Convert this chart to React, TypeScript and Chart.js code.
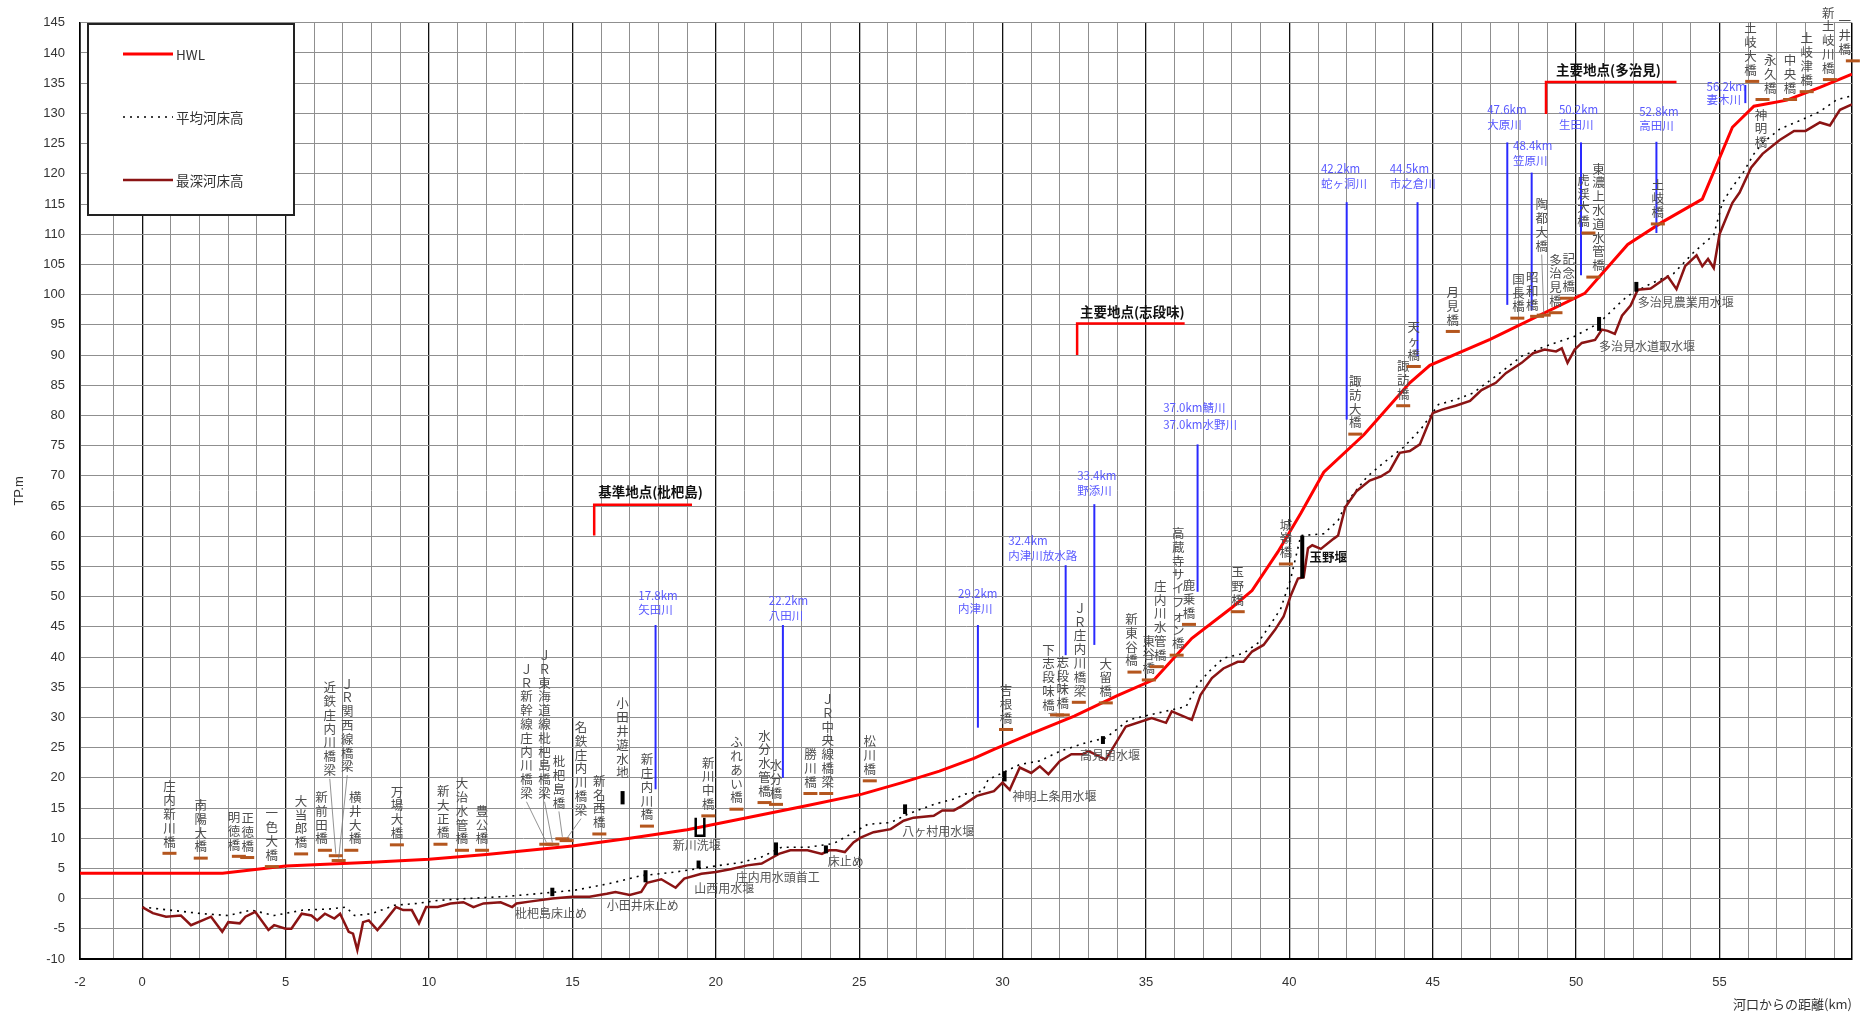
import React, { useEffect, useRef } from "react";
import { Chart, registerables } from "chart.js";
Chart.register(...registerables);

const W = 1868;
const H = 1015;
const JP = '"Noto Sans CJK JP", "Noto Sans", sans-serif';
const LAT = '"Liberation Sans", Arial, sans-serif';

// ---- axis ----
const xMin = -2.17;
const xMax = 59.62;
const yMin = -10;
const yMax = 145;

// ---- series ----
const hwlKm = [-2.17, 2.8, 5, 8, 10, 12, 15, 17, 19, 21, 23.2, 25.1, 26.5, 27.8, 29, 29.7, 31, 32.5, 34, 35.3, 36.6, 38, 38.7, 39.6, 40.4, 41.2, 42.6, 44.2, 44.9, 47, 50.3, 51.8, 53, 54.4, 55.45, 56.2, 57.35, 58.5, 59.62];
const hwlM = [4.2, 4.2, 5.4, 6.0, 6.5, 7.3, 8.7, 10.0, 11.4, 13.3, 15.4, 17.3, 19.2, 21.1, 23.2, 24.7, 27.3, 30.2, 33.6, 36.3, 43.1, 48.2, 51.0, 57.4, 63.8, 70.6, 76.8, 85.4, 88.3, 92.6, 100.2, 108.3, 112.0, 115.8, 127.7, 131.2, 132.2, 134.3, 136.5];

const meanKm = [0.0, 0.95, 2.1, 3.0, 3.8, 4.6, 5.6, 6.6, 7.1, 7.4, 8.0, 8.8, 9.6, 10.3, 11.3, 12.5, 13.05, 14.0, 15.1, 16.3, 17.4, 18.6, 19.7, 20.9, 21.6, 22.3, 23.2, 24.1, 24.6, 25.3, 26.1, 26.7, 27.6, 28.3, 28.7, 29.3, 29.5, 30.6, 31.3, 32.0, 32.9, 33.6, 34.4, 35.3, 36.4, 36.8, 37.2, 37.7, 38.4, 38.9, 39.4, 39.7, 40.05, 40.4, 41.2, 41.7, 42.0, 42.7, 43.3, 44.0, 44.6, 45.2, 45.8, 46.4, 47.2, 48.1, 48.9, 49.95, 50.8, 51.5, 51.8, 52.6, 53.4, 54.1, 54.8, 55.1, 55.4, 55.85, 56.2, 56.5, 57.1, 57.8, 58.5, 59.1, 59.62];
const meanM = [-1.4, -1.9, -2.5, -2.8, -1.9, -2.8, -1.9, -1.7, -1.4, -2.8, -2.5, -1.1, -0.8, -0.3, 0.0, 0.3, 0.5, 0.9, 1.4, 2.5, 3.8, 4.4, 5.2, 6.0, 6.9, 8.5, 8.5, 9.1, 10.4, 12.3, 12.6, 14.0, 15.6, 16.5, 17.3, 17.8, 19.7, 22.2, 22.8, 24.4, 25.8, 26.6, 29.6, 30.6, 31.8, 35.4, 37.6, 39.8, 40.6, 42.3, 45.8, 48.0, 53.0, 60.1, 60.4, 62.6, 65.6, 69.8, 72.2, 74.8, 77.8, 81.8, 82.6, 83.7, 86.5, 89.8, 91.4, 93.1, 95.3, 98.5, 99.8, 101.8, 103.5, 107.0, 109.9, 115.2, 117.5, 120.4, 123.3, 125.1, 127.4, 128.8, 130.3, 132.3, 132.9];

const deepKm = [0, 0.37, 0.83, 1.35, 1.7, 2.1, 2.4, 2.79, 3.0, 3.4, 3.6, 3.94, 4.4, 4.6, 5.0, 5.2, 5.56, 5.9, 6.1, 6.37, 6.7, 6.9, 7.2, 7.35, 7.5, 7.7, 7.9, 8.2, 8.4, 8.85, 9.1, 9.4, 9.65, 9.9, 10.3, 10.75, 11.2, 11.55, 11.9, 12.5, 12.9, 13.05, 13.5, 14.3, 15.0, 15.6, 16.2, 16.5, 17.0, 17.4, 17.6, 18.1, 18.6, 18.9, 19.5, 20.0, 20.55, 21.1, 21.6, 21.9, 22.2, 22.6, 23.2, 23.7, 23.95, 24.2, 24.5, 24.8, 25.05, 25.5, 26.1, 26.55, 26.9, 27.6, 27.9, 28.3, 28.6, 29.1, 29.7, 30.0, 30.25, 30.6, 31.0, 31.3, 31.6, 32.0, 32.4, 32.8, 33.0, 33.6, 34.3, 35.2, 35.7, 35.9, 36.6, 36.9, 37.3, 37.7, 38.2, 38.4, 38.7, 39.1, 39.5, 39.8, 40.05, 40.3, 40.5, 40.65, 40.8, 41.1, 41.55, 41.7, 41.95, 42.35, 42.8, 43.2, 43.5, 43.85, 44.2, 44.55, 45.0, 45.35, 45.8, 46.3, 46.7, 47.2, 47.55, 48.1, 48.5, 48.9, 49.3, 49.5, 49.7, 49.95, 50.2, 50.66, 50.9, 51.1, 51.35, 51.6, 51.9, 52.15, 52.6, 53.2, 53.5, 53.8, 54.2, 54.4, 54.6, 54.8, 55.0, 55.2, 55.45, 55.7, 56.1, 56.5, 57.1, 57.6, 58.0, 58.5, 58.85, 59.2, 59.62];
const deepM = [-1.4, -2.4, -3.0, -2.8, -4.4, -3.6, -3.0, -5.5, -3.9, -4.1, -3.0, -2.2, -5.2, -4.4, -5.0, -5.0, -2.5, -2.8, -3.6, -2.5, -3.3, -2.5, -5.5, -5.8, -8.5, -3.9, -3.6, -5.2, -4.1, -1.4, -1.9, -1.9, -4.1, -1.4, -1.4, -0.8, -0.6, -1.4, -0.8, -0.6, -1.4, -0.8, -0.5, 0.0, 0.3, 0.3, 0.8, 1.1, 0.6, 1.1, 2.6, 3.2, 1.8, 3.3, 4.1, 4.4, 4.9, 5.5, 5.8, 6.6, 7.4, 8.0, 8.0, 7.4, 8.0, 8.0, 7.7, 9.3, 10.1, 11.0, 11.5, 12.9, 13.4, 13.7, 14.6, 14.6, 15.4, 17.0, 17.8, 19.2, 18.0, 21.7, 20.8, 21.9, 20.6, 22.8, 23.9, 23.9, 24.4, 23.0, 28.5, 29.9, 29.1, 31.0, 29.6, 33.7, 36.5, 38.1, 39.2, 39.2, 40.9, 42.0, 44.5, 46.7, 50.2, 53.0, 53.2, 58.0, 58.5, 57.9, 59.6, 60.1, 64.8, 67.5, 69.2, 69.9, 70.8, 73.8, 74.1, 75.2, 80.4, 81.0, 81.6, 82.4, 84.2, 85.4, 87.0, 88.7, 90.3, 90.9, 90.6, 91.1, 88.7, 90.9, 92.0, 92.5, 94.2, 94.0, 93.5, 96.5, 98.2, 100.8, 101.0, 103.0, 100.9, 104.7, 106.5, 104.7, 105.9, 104.4, 110.0, 112.3, 115.2, 116.9, 121.0, 123.3, 125.6, 127.1, 127.1, 128.5, 128.0, 130.6, 131.5];

// ---- annotations (name, marker km, marker height, text km?, text bottom?) ----
const bridges: [string, number, number, number?, number?][] = [
  ["庄内新川橋", 0.95, 7.5],
  ["南陽大橋", 2.04, 6.7],
  ["明徳橋", 3.37, 7.0, 3.2],
  ["正徳橋", 3.66, 6.8, 3.68],
  ["一色大橋", 4.52, 5.3],
  ["大当郎橋", 5.54, 7.4],
  ["新前田橋", 6.37, 8.0, 6.25],
  ["近鉄庄内川橋梁", 6.75, 7.1, 6.54, 20.0],
  ["ＪＲ関西線橋梁", 6.85, 6.3, 7.15, 20.6],
  ["横井大橋", 7.29, 8.0, 7.43],
  ["万場大橋", 8.88, 8.9],
  ["新大正橋", 10.4, 9.0, 10.5],
  ["大治水管橋", 11.15, 8.0],
  ["豊公橋", 11.85, 8.0],
  ["ＪＲ新幹線庄内川橋梁", 14.09, 9.0, 13.4, 16.2],
  ["ＪＲ東海道線枇杷島橋梁", 14.3, 9.0, 14.03, 16.2],
  ["枇杷島橋", 14.65, 9.9, 14.53, 14.6],
  ["名鉄庄内川橋梁", 14.8, 9.6, 15.3, 13.4],
  ["新名西橋", 15.94, 10.7],
  ["新庄内川橋", 17.6, 12.0],
  ["新川中橋", 19.74, 13.7],
  ["ふれあい橋", 20.72, 14.8],
  ["水分水管橋", 21.7, 15.9],
  ["水分橋", 22.1, 15.6],
  ["勝川橋", 23.3, 17.4],
  ["ＪＲ中央線橋梁", 23.85, 17.4, 23.9],
  ["松川橋", 25.37, 19.5],
  ["吉根橋", 30.12, 28.0],
  ["下志段味橋", 31.9, 30.4, 31.6, 30.8],
  ["志段味橋", 32.1, 30.4],
  ["ＪＲ庄内川橋梁", 32.66, 32.5, 32.7],
  ["大留橋", 33.6, 32.4],
  ["新東谷橋", 34.6, 37.5, 34.5],
  ["東谷橋", 35.1, 36.2],
  ["庄内川水管橋", 35.38, 38.4, 35.5],
  ["高蔵寺サイフォン橋", 36.07, 40.3, 36.13],
  ["鹿乗橋", 36.5, 45.4],
  ["玉野橋", 38.2, 47.5],
  ["城嶺橋", 39.88, 55.4],
  ["諏訪大橋", 42.3, 76.9],
  ["諏訪橋", 43.97, 81.6],
  ["天ヶ橋", 44.34, 88.1],
  ["月見橋", 45.7, 93.9],
  ["国長橋", 47.95, 96.1, 47.99],
  ["昭和橋", 48.64, 96.4, 48.47],
  ["陶都大橋", 48.87, 96.6, 48.8, 106.8],
  ["多治見橋", 49.28, 97.0],
  ["記念橋", 49.68, 99.4, 49.74],
  ["虎渓大橋", 50.43, 110.2, 50.26],
  ["東濃上水道水管橋", 50.6, 102.9, 50.78],
  ["土岐橋", 52.85, 111.7],
  ["土岐大橋", 56.14, 135.3, 56.08],
  ["永久橋", 56.5, 132.3, 56.77],
  ["中央橋", 57.46, 132.3],
  ["土岐津橋", 58.04, 133.6],
  ["新土岐川橋", 58.85, 135.6, 58.79],
  ["一井橋", 59.65, 138.7, 59.37],
];
const hangingLabels: [string, number, number][] = [["神明橋", 56.45, 131.3]];
const plainVLabels: [string, number, number][] = [["小田井遊水地", 16.75, 19.6]];

// tributaries: line1, line2, text km, v1, v2, line km, top, bottom
const tributaries: [string, string, number, number, number, number, number, number][] = [
  ["17.8km", "矢田川", 17.3, 50.2, 47.8, 17.9, 45.3, 18.1],
  ["22.2km", "八田川", 21.85, 49.4, 46.9, 22.34, 45.3, 20.0],
  ["29.2km", "内津川", 28.45, 50.5, 48.0, 29.14, 45.3, 28.3],
  ["32.4km", "内津川放水路", 30.2, 59.3, 56.8, 32.2, 55.2, 40.3],
  ["33.4km", "野添川", 32.6, 70.0, 67.5, 33.2, 65.3, 42.0],
  ["37.0km鯖川", "37.0km水野川", 35.6, 81.3, 78.5, 36.8, 75.2, 50.8],
  ["42.2km", "蛇ヶ洞川", 41.1, 120.8, 118.3, 42.0, 115.3, 79.3],
  ["44.5km", "市之倉川", 43.5, 120.8, 118.3, 44.47, 115.3, 89.8],
  ["47.6km", "大原川", 46.9, 130.7, 128.2, 47.6, 125.2, 98.3],
  ["48.4km", "笠原川", 47.8, 124.6, 122.2, 48.45, 120.2, 97.4],
  ["50.2km", "生田川", 49.4, 130.7, 128.2, 50.17, 125.2, 103.2],
  ["52.8km", "高田川", 52.2, 130.3, 128.0, 52.8, 125.3, 110.2],
  ["56.2km", "妻木川", 54.55, 134.4, 132.3, 55.9, 134.7, 131.7],
];

// weir marks: km, top, bottom
const weirs: [number, number, number][] = [
  [14.3, 1.8, 0.4], [16.75, 17.8, 15.6], [17.55, 4.7, 2.7], [19.4, 6.3, 5.0], [22.1, 9.3, 7.2],
  [23.84, 8.8, 7.5], [26.6, 15.6, 14.0], [30.07, 21.1, 19.4], [33.5, 26.9, 25.6],
  [40.45, 60.1, 53.0], [50.8, 96.3, 94.0], [52.1, 102.1, 100.5],
];
const weirU = [19.3, 19.6, 13.4, 10.4];
const weirLabels: [string, number, number, boolean?][] = [
  ["枇杷島床止め", 13.0, -2.5],
  ["小田井床止め", 16.2, -1.1],
  ["新川洗堰", 18.5, 8.8],
  ["山西用水堰", 19.25, 1.6],
  ["庄内用水頭首工", 20.7, 3.55],
  ["床止め", 23.9, 6.1],
  ["八ヶ村用水堰", 26.5, 11.2],
  ["神明上条用水堰", 30.35, 16.9],
  ["高見用水堰", 32.7, 23.7],
  ["玉野堰", 40.7, 56.5, true],
  ["多治見水道取水堰", 50.8, 91.5],
  ["多治見農業用水堰", 52.15, 98.7],
];
// main points: text, text km, text val, bracket km, bottom, top, right km
const mainPoints: [string, number, number, number, number, number, number][] = [
  ["基準地点(枇杷島)", 15.9, 67.3, 15.76, 60.1, 65.2, 19.17],
  ["主要地点(志段味)", 32.7, 97.2, 32.6, 90.0, 95.2, 36.35],
  ["主要地点(多治見)", 49.3, 137.2, 48.95, 129.9, 135.2, 53.5],
];

const legendItems: [string, string, number[], number][] = [
  ["HWL", "#ff0000", [], 3],
  ["平均河床高", "#000000", [2, 5], 1.6],
  ["最深河床高", "#8b1414", [], 2.5],
];

const pts = (xs: number[], ys: number[]) => xs.map((x, i) => ({ x, y: ys[i] }));

function vText(ctx: CanvasRenderingContext2D, s: string, x: number, yStart: number, step: number) {
  let y = yStart;
  for (const ch of Array.from(s)) {
    ctx.fillText(ch, x, y);
    y += step;
  }
}

const annotPlugin = {
  id: "annot",
  afterDatasetsDraw(chart: any) {
    const { ctx, scales } = chart;
    const px = (k: number) => scales.x.getPixelForValue(k);
    const py = (v: number) => scales.y.getPixelForValue(v);
    const STEP = 13.8;
    ctx.save();

    // tributary lines + labels
    ctx.font = `11.5px ${JP}`;
    ctx.textAlign = "left";
    ctx.textBaseline = "middle";
    for (const t of tributaries) {
      ctx.strokeStyle = "#2a2aff";
      ctx.lineWidth = 2;
      ctx.beginPath();
      ctx.moveTo(px(t[5]), py(t[6]));
      ctx.lineTo(px(t[5]), py(t[7]));
      ctx.stroke();
      ctx.fillStyle = "#5a5aff";
      ctx.fillText(t[0], px(t[2]), py(t[3]));
      ctx.fillText(t[1], px(t[2]), py(t[4]));
    }

    // main points
    for (const m of mainPoints) {
      ctx.strokeStyle = "#ff0000";
      ctx.lineWidth = 2.5;
      ctx.beginPath();
      ctx.moveTo(px(m[3]), py(m[4]));
      ctx.lineTo(px(m[3]), py(m[5]));
      ctx.lineTo(px(m[6]), py(m[5]));
      ctx.stroke();
      ctx.fillStyle = "#111";
      ctx.font = `bold 13.5px ${JP}`;
      ctx.textAlign = "left";
      ctx.textBaseline = "middle";
      ctx.fillText(m[0], px(m[1]), py(m[2]));
    }

    // weirs
    ctx.fillStyle = "#000";
    for (const w of weirs) {
      const x = px(w[0]);
      ctx.fillRect(x - 2, py(w[1]), 4, py(w[2]) - py(w[1]));
    }
    ctx.strokeStyle = "#000";
    ctx.lineWidth = 2.5;
    ctx.beginPath();
    ctx.moveTo(px(weirU[0]), py(weirU[2]));
    ctx.lineTo(px(weirU[0]), py(weirU[3]));
    ctx.lineTo(px(weirU[1]), py(weirU[3]));
    ctx.lineTo(px(weirU[1]), py(weirU[2]));
    ctx.stroke();
    ctx.textAlign = "left";
    ctx.textBaseline = "middle";
    for (const l of weirLabels) {
      ctx.font = l[3] ? `bold 12.5px ${JP}` : `12px ${JP}`;
      ctx.fillStyle = l[3] ? "#111" : "#555";
      ctx.fillText(l[0], px(l[1]), py(l[2]));
    }

    // bridges
    ctx.font = `12.5px ${JP}`;
    ctx.textAlign = "center";
    ctx.textBaseline = "top";
    for (const b of bridges) {
      const mx = px(b[1]);
      const my = py(b[2]);
      const tx = px(b[3] ?? b[1]);
      const n = Array.from(b[0]).length;
      let bottom = my - 4;
      if (b[4] !== undefined) {
        bottom = py(b[4]);
        ctx.strokeStyle = "#777";
        ctx.lineWidth = 0.8;
        ctx.beginPath();
        ctx.moveTo(tx, bottom + 1);
        ctx.lineTo(mx, my - 2);
        ctx.stroke();
      }
      ctx.fillStyle = "#4d4d4d";
      vText(ctx, b[0], tx, bottom - n * STEP, STEP);
      ctx.fillStyle = "#b4561e";
      ctx.fillRect(mx - 7, my - 1.5, 14, 3);
    }
    ctx.fillStyle = "#4d4d4d";
    for (const h of hangingLabels) {
      vText(ctx, h[0], px(h[1]), py(h[2]) + 3, STEP);
    }
    for (const v of plainVLabels) {
      const n = Array.from(v[0]).length;
      vText(ctx, v[0], px(v[1]), py(v[2]) - n * STEP, STEP);
    }
    ctx.restore();
  },
  afterDraw(chart: any) {
    const { ctx } = chart;
    ctx.save();
    ctx.fillStyle = "#fff";
    ctx.fillRect(88, 24, 206, 191);
    ctx.strokeStyle = "#222";
    ctx.lineWidth = 2;
    ctx.strokeRect(88, 24, 206, 191);
    ctx.font = `13.5px ${JP}`;
    ctx.textAlign = "left";
    ctx.textBaseline = "middle";
    legendItems.forEach((it, i) => {
      const y = 54 + i * 63;
      ctx.strokeStyle = it[1];
      ctx.lineWidth = it[3];
      ctx.setLineDash(it[2]);
      ctx.beginPath();
      ctx.moveTo(123, y);
      ctx.lineTo(173, y);
      ctx.stroke();
      ctx.setLineDash([]);
      ctx.fillStyle = "#333";
      ctx.fillText(it[0], 176, y + 1);
    });
    ctx.restore();
  },
};

export default function App() {
  const ref = useRef<HTMLCanvasElement>(null);
  useEffect(() => {
    document.body.style.margin = "0";
    const xTicks: number[] = [xMin];
    for (let v = -1; v <= 59; v++) xTicks.push(v);
    xTicks.push(xMax);
    const isInt = (v: number) => Math.abs(v - Math.round(v)) < 1e-6;
    const chart = new Chart(ref.current as HTMLCanvasElement, {
      type: "scatter",
      data: {
        datasets: [
          { label: "HWL", data: pts(hwlKm, hwlM), showLine: true, borderColor: "#ff0000", borderWidth: 3, pointRadius: 0, tension: 0, order: 1 },
          { label: "平均河床高", data: pts(meanKm, meanM), showLine: true, borderColor: "#000", borderWidth: 1.6, borderDash: [2, 5], pointRadius: 0, tension: 0, order: 3 },
          { label: "最深河床高", data: pts(deepKm, deepM), showLine: true, borderColor: "#8b1414", borderWidth: 2.5, pointRadius: 0, tension: 0, order: 2 },
        ],
      } as any,
      options: {
        animation: false,
        responsive: false,
        layout: { padding: { top: 18, right: 2, left: 0, bottom: 0 } },
        plugins: { legend: { display: false }, tooltip: { enabled: false } },
        scales: {
          x: {
            type: "linear",
            min: xMin,
            max: xMax,
            afterBuildTicks: (s: any) => {
              s.ticks = xTicks.map((value) => ({ value }));
            },
            afterFit: (s: any) => {
              s.height = 56;
            },
            ticks: {
              autoSkip: false,
              maxRotation: 0,
              padding: 16,
              color: "#333",
              font: { size: 13, family: LAT },
              callback: (v: any) => {
                const n = Number(v);
                if (n < -2) return "-2";
                return isInt(n) && Math.round(n) % 5 === 0 ? String(Math.round(n)) : "";
              },
            },
            grid: {
              drawTicks: false,
              color: (c: any) => {
                const v = c.tick ? c.tick.value : 0;
                if (!isInt(v)) return "#000";
                return Math.round(v) % 5 === 0 ? "#111" : "#8f8f8f";
              },
              lineWidth: (c: any) => {
                const v = c.tick ? c.tick.value : 0;
                if (!isInt(v)) return 1.5;
                return Math.round(v) % 5 === 0 ? 1.3 : 1;
              },
            },
            border: { display: true, color: "#000", width: 2 },
            title: {
              display: true,
              text: "河口からの距離(km)",
              align: "end",
              color: "#333",
              font: { size: 13, family: JP },
              padding: { top: 0, bottom: 3 },
            },
          },
          y: {
            type: "linear",
            min: yMin,
            max: yMax,
            afterFit: (s: any) => {
              s.width = 80;
            },
            ticks: {
              stepSize: 5,
              padding: 15,
              color: "#333",
              font: { size: 13, family: LAT },
            },
            grid: { drawTicks: false, color: "#8f8f8f", lineWidth: 1 },
            border: { display: true, color: "#000", width: 1.5 },
            title: {
              display: true,
              text: "TP.m",
              color: "#333",
              font: { size: 13, family: LAT },
              padding: { top: 12, bottom: 0 },
            },
          },
        },
      } as any,
      plugins: [annotPlugin as any],
    });
    return () => chart.destroy();
  }, []);
  return (
    <div style={{ width: W, height: H }}>
      <canvas ref={ref} width={W} height={H} style={{ display: "block", width: W, height: H }} />
    </div>
  );
}
